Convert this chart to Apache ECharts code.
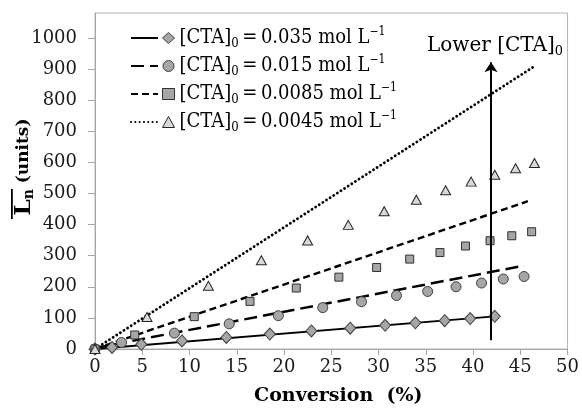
<!DOCTYPE html>
<html>
<head>
<meta charset="utf-8">
<script src="https://cdn.jsdelivr.net/npm/echarts@6.0.0/dist/echarts.min.js"></script>
<style>
html, body { margin: 0; padding: 0; background: #fff; }
#chart { width: 582px; height: 411px; }
</style>
</head>
<body>
<div id="chart"></div>
<script>
// Axis ticks
const xTicks = [0, 5, 10, 15, 20, 25, 30, 35, 40, 45, 50];
const yTicks = [0, 100, 200, 300, 400, 500, 600, 700, 800, 900, 1000];

// Initial chain-transfer agent concentrations (mol/L)
const ctaLabels = ['0.035', '0.015', '0.0085', '0.0045'];

// Measured number-average chain length vs. conversion (%)
const conv1 = [0, 1.8, 4.9, 9.2, 13.9, 18.5, 22.9, 27.0, 30.7, 33.9, 37.0, 39.7, 42.3];
const ln1   = [0, 5, 15, 26, 37, 48, 58, 67, 76, 84, 91, 98, 105];

const conv2 = [0, 2.8, 8.4, 14.2, 19.4, 24.1, 28.2, 31.9, 35.2, 38.2, 40.9, 43.2, 45.4];
const ln2   = [0, 21, 51, 81, 107, 133, 152, 172, 185, 200, 212, 225, 233];

const conv3 = [0, 4.2, 10.5, 16.4, 21.3, 25.8, 29.8, 33.3, 36.5, 39.2, 41.8, 44.1, 46.2];
const ln3   = [0, 45, 104, 153, 196, 231, 262, 289, 310, 331, 348, 364, 377];

const conv4 = [0, 5.5, 12.0, 17.6, 22.5, 26.8, 30.6, 34.0, 37.1, 39.8, 42.3, 44.5, 46.5];
const ln4   = [0, 103, 203, 285, 349, 399, 443, 480, 510, 538, 560, 581, 598];

// Model lines: [conversion, Ln] at start and end
const model1 = [[0, 0], [42.3, 105]];
const model2 = [[0, 3], [45.4, 268]];
const model3 = [[0, 0], [45.8, 475]];
const model4 = [[0, 0], [46.3, 905]];

// Trend arrow (conversion, from Ln, to Ln)
const arrowConv = 41.9;
const arrowFrom = 28;
const arrowTo = 922;

const SERIF = "'DejaVu Serif', 'Liberation Serif', serif";
const SERIF_C = "'DejaVu Serif Condensed', 'DejaVu Serif', serif";

const pairs = (xs, ys) => xs.map((x, i) => [x, ys[i]]);

const pointNames = ctaLabels.map(c => 'pts ' + c);
const lineNames = ctaLabels.map(c => 'fit ' + c);

const markerStyles = [
  { symbol: 'diamond', size: [11, 12], fill: '#a6a6a6', stroke: '#404040' },
  { symbol: 'circle', size: 10, fill: '#a6a6a6', stroke: '#404040' },
  { symbol: 'rect', size: 8, fill: '#a6a6a6', stroke: '#303030' },
  { symbol: 'triangle', size: [10, 9], fill: '#d9d9d9', stroke: '#262626' }
];

const lineStyles = [
  { type: 'solid', width: 1.8 },
  { type: [13, 6], width: 2.5 },
  { type: [7, 4], width: 2.4 },
  { type: [0.1, 4.2], width: 2.8, cap: 'round' }
];

const pointSets = [pairs(conv1, ln1), pairs(conv2, ln2), pairs(conv3, ln3), pairs(conv4, ln4)];
const modelSets = [model1, model2, model3, model4];

const legendRich = {
  t: { fontFamily: SERIF_C, fontSize: 20, lineHeight: 24, color: '#000' },
  s: { fontFamily: SERIF_C, fontSize: 13, lineHeight: 8, verticalAlign: 'bottom', color: '#000' },
  p: { fontFamily: SERIF_C, fontSize: 12, lineHeight: 10, verticalAlign: 'top', color: '#000' }
};
const noteRich = {
  t: { fontFamily: SERIF, fontSize: 20, lineHeight: 24, color: '#000' },
  s: { fontFamily: SERIF, fontSize: 13, lineHeight: 8, verticalAlign: 'bottom', color: '#000' }
};

const series = [];
modelSets.forEach((d, i) => {
  const ls = lineStyles[i];
  const s = {
    name: lineNames[i],
    type: 'line',
    data: d,
    symbol: 'none',
    silent: true,
    z: 2,
    lineStyle: { color: '#000', width: ls.width, type: ls.type, cap: ls.cap || 'butt' },
    itemStyle: { color: '#000' }
  };
  if (i === 0) {
    s.markLine = {
      silent: true,
      animation: false,
      symbol: ['none', 'arrow'],
      symbolSize: 10,
      lineStyle: { color: '#000', width: 2, type: 'solid' },
      label: {
        show: true,
        position: 'end',
        distance: 4,
        padding: [0, 0, 0, 8],
        formatter: '{t|Lower [CTA]}{s|0}',
        rich: noteRich
      },
      data: [[{ coord: [arrowConv, arrowFrom] }, { coord: [arrowConv, arrowTo] }]]
    };
  }
  series.push(s);
});
pointSets.forEach((d, i) => {
  const m = markerStyles[i];
  series.push({
    name: pointNames[i],
    type: 'scatter',
    data: d,
    symbol: m.symbol,
    symbolSize: m.size,
    z: 3,
    itemStyle: { color: m.fill, borderColor: m.stroke, borderWidth: 1, opacity: 1 }
  });
});

const chart = echarts.init(document.getElementById('chart'), null, { renderer: 'canvas' });
chart.setOption({
  animation: false,
  backgroundColor: '#fff',
  grid: {
    left: 95, right: 13, top: 13, bottom: 61,
    show: true, borderColor: '#b3b3b3', borderWidth: 1
  },
  legend: [
    {
      data: lineNames,
      orient: 'vertical',
      left: 130, top: 26,
      padding: 0,
      itemGap: 4,
      itemWidth: 27, itemHeight: 12,
      selectedMode: false,
      itemStyle: { color: 'rgba(0,0,0,0)', borderWidth: 0, opacity: 0 },
      formatter: () => ' ',
      textStyle: { fontFamily: SERIF, fontSize: 20, lineHeight: 24 }
    },
    {
      data: pointNames,
      orient: 'vertical',
      left: 162, top: 26,
      padding: 0,
      itemGap: 4,
      itemWidth: 12, itemHeight: 11,
      itemStyle: { borderWidth: 1 },
      selectedMode: false,
      formatter: name => {
        const c = ctaLabels[pointNames.indexOf(name)];
        return '{t|[CTA]}{s|0}{t|\u2009=\u2009' + c + ' mol L}{p|\u22121}';
      },
      textStyle: { rich: legendRich, fontFamily: SERIF_C, fontSize: 20, lineHeight: 24 }
    }
  ],
  xAxis: {
    type: 'value',
    min: 0, max: 50, interval: 5,
    name: 'Conversion  (%)',
    nameLocation: 'middle',
    nameGap: 38,
    nameTextStyle: {
      fontFamily: SERIF, fontSize: 19, fontWeight: 'bold', color: '#000',
      padding: [0, 0, 0, 14]
    },
    splitLine: { show: false },
    axisLine: { show: true, lineStyle: { color: '#a6a6a6', width: 1 } },
    axisTick: { show: true, inside: false, length: 6, lineStyle: { color: '#a6a6a6' } },
    axisLabel: {
      margin: 9,
      fontFamily: SERIF, fontSize: 18, color: '#1a1a1a',
      customValues: xTicks
    }
  },
  yAxis: {
    type: 'value',
    min: 0, max: 1080,
    splitLine: { show: false },
    axisLine: { show: true, lineStyle: { color: '#a6a6a6', width: 1 } },
    axisTick: { show: true, inside: false, length: 7, lineStyle: { color: '#a6a6a6' }, customValues: yTicks },
    axisLabel: {
      margin: 18,
      fontFamily: SERIF, fontSize: 18, color: '#1a1a1a',
      customValues: yTicks,
      formatter: v => String(v)
    }
  },
  graphic: [
    {
      type: 'group',
      x: 24, y: 167,
      rotation: Math.PI / 2,
      children: [
        {
          type: 'text',
          x: 0, y: 0,
          style: {
            text: '{l|L}{n|n}{u| (units)}',
            align: 'center',
            verticalAlign: 'middle',
            rich: {
              l: { fontFamily: SERIF, fontSize: 23, fontWeight: 'bold', lineHeight: 24, fill: '#000' },
              n: { fontFamily: SERIF, fontSize: 14, fontWeight: 'bold', lineHeight: 8, verticalAlign: 'bottom', fill: '#000' },
              u: { fontFamily: SERIF, fontSize: 17, fontWeight: 'bold', lineHeight: 24, fill: '#000' }
            }
          }
        },
        {
          type: 'rect',
          shape: { x: -52, y: -13, width: 30, height: 1.8 },
          style: { fill: '#000' }
        }
      ]
    }
  ],
  series: series
});
</script>
</body>
</html>
